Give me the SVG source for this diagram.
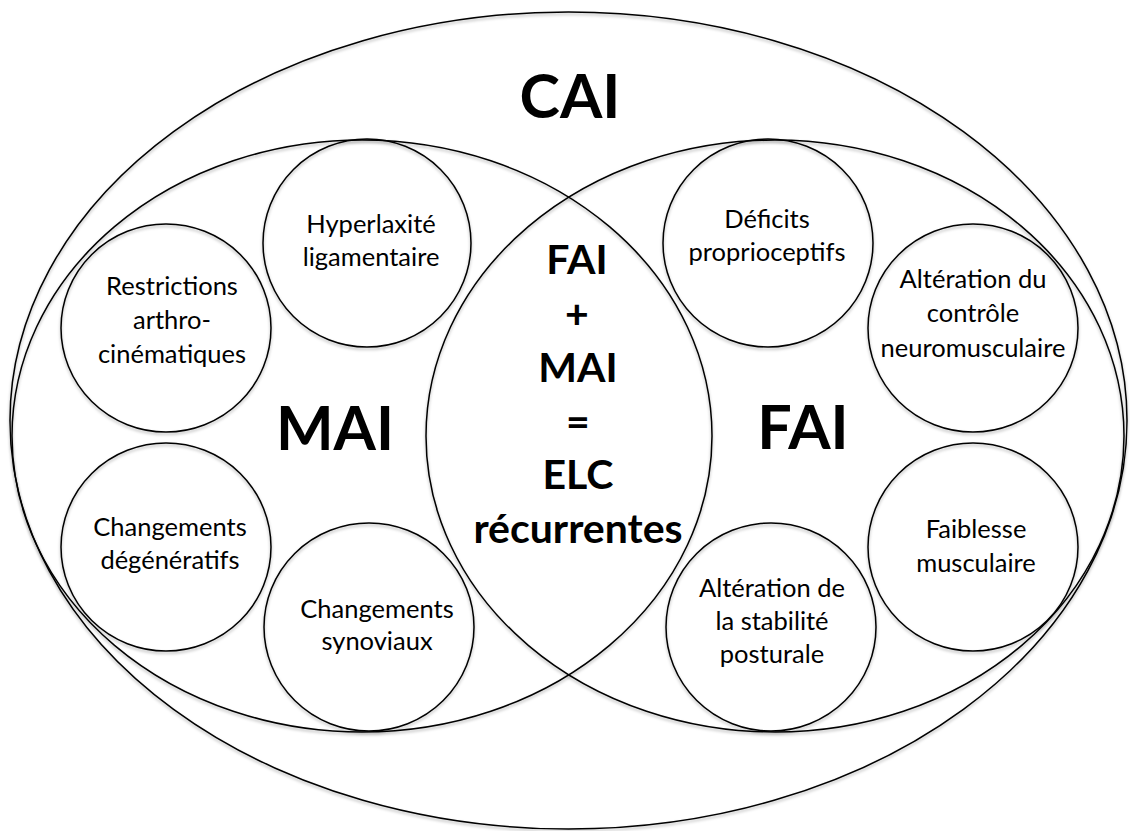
<svg xmlns="http://www.w3.org/2000/svg" width="1130" height="831" viewBox="0 0 1130 831">
<defs>
<filter id="sh" x="-5%" y="-5%" width="110%" height="110%">
<feDropShadow dx="0" dy="2" stdDeviation="1.5" flood-color="#000" flood-opacity="0.3"/>
</filter>
<style>
.sh{fill:none;stroke:#000;stroke-width:1.5;filter:url(#sh)}
.t{font-family:Lato,"Liberation Sans",sans-serif;font-size:25.5px;fill:#000;text-anchor:middle}
.b{font-family:Lato,"Liberation Sans",sans-serif;font-weight:bold;fill:#000;text-anchor:middle}
.big{font-size:61px}
.mid{font-size:41px}
</style>
</defs>
<rect width="1130" height="831" fill="#fff"/>
<g id="CAI">
<ellipse class="sh" cx="568.5" cy="420.5" rx="558.5" ry="408.5"/>
<text class="b big" x="570" y="118">CAI</text>
</g>
<g id="MAI">
<ellipse class="sh" cx="362" cy="436" rx="350" ry="296"/>
<text class="b big" x="335" y="450">MAI</text>
</g>
<g id="FAI">
<ellipse class="sh" cx="775" cy="436" rx="349" ry="296"/>
<text class="b big" x="803" y="449">FAI</text>
</g>
<g id="center">
<text class="b mid" x="577" y="274">FAI</text>
<text class="b mid" x="577" y="328">+</text>
<text class="b mid" x="578" y="382">MAI</text>
<text class="b mid" x="578" y="436">=</text>
<text class="b mid" x="578" y="489">ELC</text>
<text class="b mid" x="578" y="543">récurrentes</text>
</g>
<g id="hyperlaxite">
<ellipse class="sh" cx="367" cy="243" rx="104" ry="104"/>
<text class="t" x="371" y="233">Hyperlaxité</text>
<text class="t" x="371" y="266">ligamentaire</text>
</g>
<g id="restrictions">
<ellipse class="sh" cx="166" cy="328" rx="105" ry="104"/>
<text class="t" x="172" y="295">Restrictions</text>
<text class="t" x="172" y="329">arthro-</text>
<text class="t" x="172" y="363">cinématiques</text>
</g>
<g id="degeneratifs">
<ellipse class="sh" cx="166" cy="547" rx="105" ry="104"/>
<text class="t" x="170" y="536">Changements</text>
<text class="t" x="170" y="569">dégénératifs</text>
</g>
<g id="synoviaux">
<ellipse class="sh" cx="369" cy="627" rx="105" ry="104"/>
<text class="t" x="377" y="618">Changements</text>
<text class="t" x="377" y="650">synoviaux</text>
</g>
<g id="deficits">
<ellipse class="sh" cx="768" cy="243" rx="105" ry="104"/>
<text class="t" x="767" y="228">Déficits</text>
<text class="t" x="767" y="261">proprioceptifs</text>
</g>
<g id="controle">
<ellipse class="sh" cx="973" cy="328" rx="105" ry="104"/>
<text class="t" x="973" y="288">Altération du</text>
<text class="t" x="973" y="322">contrôle</text>
<text class="t" x="973" y="357">neuromusculaire</text>
</g>
<g id="faiblesse">
<ellipse class="sh" cx="973" cy="547" rx="105" ry="104"/>
<text class="t" x="976" y="538">Faiblesse</text>
<text class="t" x="976" y="572">musculaire</text>
</g>
<g id="stabilite">
<ellipse class="sh" cx="771" cy="627" rx="105" ry="104"/>
<text class="t" x="772" y="597">Altération de</text>
<text class="t" x="772" y="630">la stabilité</text>
<text class="t" x="772" y="663">posturale</text>
</g>
</svg>
